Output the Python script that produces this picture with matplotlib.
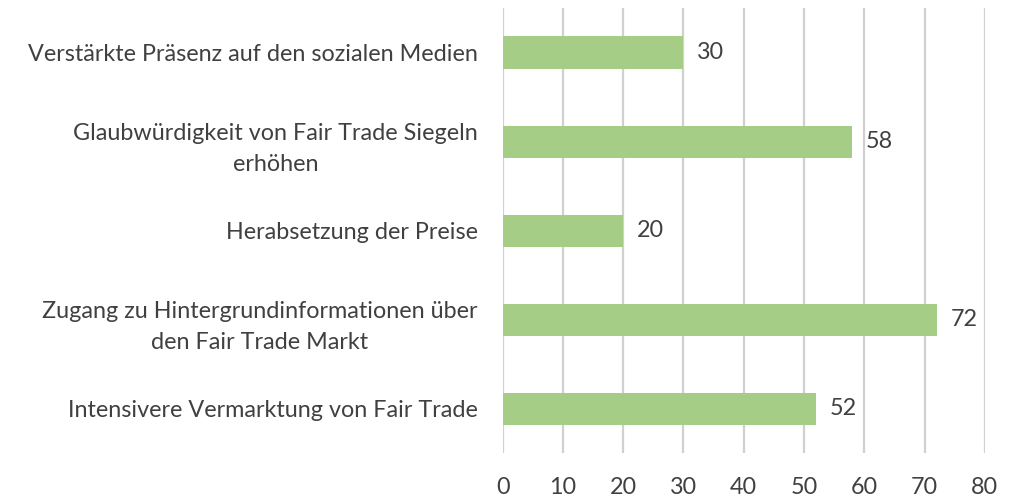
import matplotlib.pyplot as plt

categories = [
    "Verstärkte Präsenz auf den sozialen Medien",
    "Glaubwürdigkeit von Fair Trade Siegeln\nerhöhen",
    "Herabsetzung der Preise",
    "Zugang zu Hintergrundinformationen über\nden Fair Trade Markt",
    "Intensivere Vermarktung von Fair Trade",
]
values = [30, 58, 20, 72, 52]
x_ticks = [0, 10, 20, 30, 40, 50, 60, 70, 80]

text_color = "#404040"
bar_color = "#A5CD85"
fs = 16.8

plt.rcParams['font.family'] = ['Lato', 'DejaVu Sans']

fig = plt.figure(figsize=(10.28, 4.98), dpi=100)
ax = fig.add_axes([0.489, 0.09, 0.469, 0.894])

pos = list(range(len(categories)))
ax.barh(pos, values, height=0.36, color=bar_color, zorder=2)
for p, v in zip(pos, values):
    ax.text(v + 2.3, p, str(v), va='center', ha='left', fontsize=fs, color=text_color)

ax.set_xlim(0, 80)
ax.set_ylim(len(categories) - 0.5, -0.5)
ax.set_xticks(x_ticks)
ax.set_yticks(pos)
ax.set_yticklabels(categories, fontsize=fs, color=text_color,
                   multialignment='center', linespacing=1.6)
ax.tick_params(axis='x', labelsize=fs, labelcolor=text_color, length=0, pad=17)
ax.tick_params(axis='y', length=0, pad=18)
ax.grid(axis='x', color='#d0d0d0', linewidth=1.6, zorder=0)
for s in ax.spines.values():
    s.set_visible(False)

fig.savefig("out.png", dpi=100)
